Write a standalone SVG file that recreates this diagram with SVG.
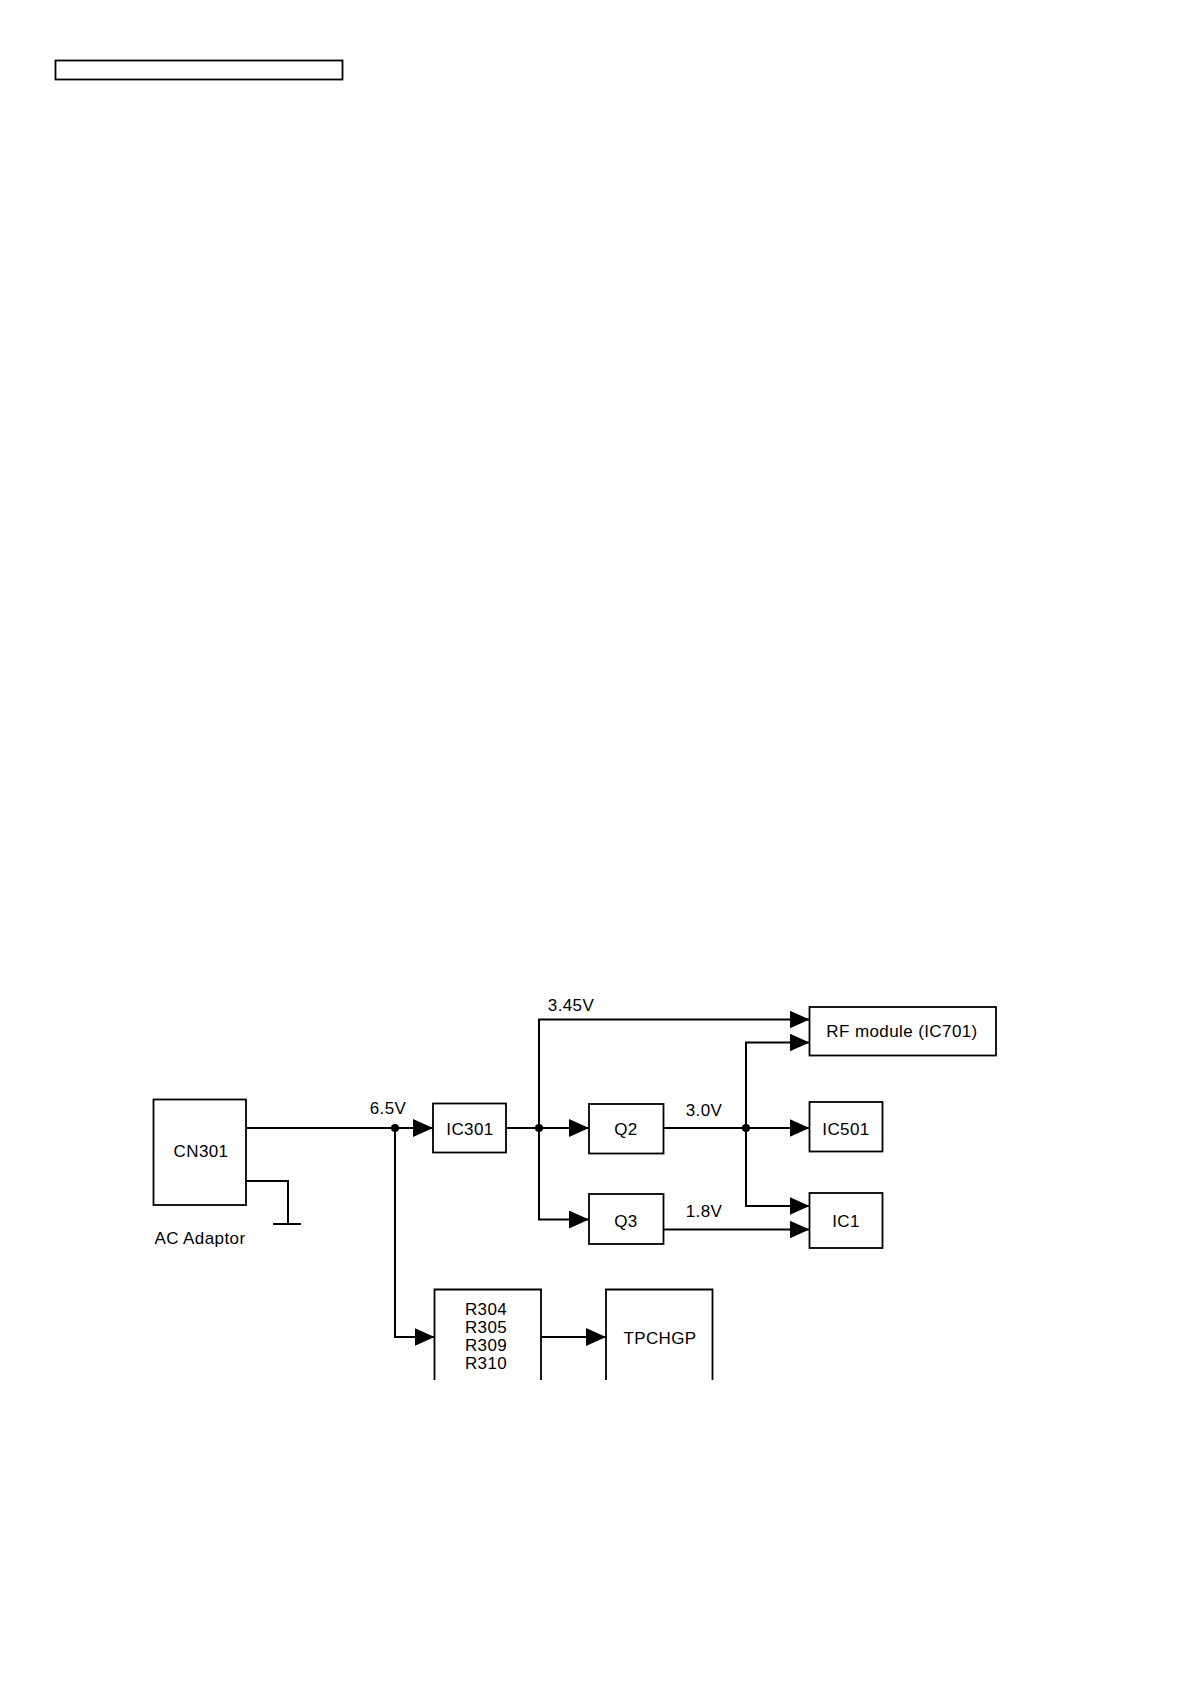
<svg xmlns="http://www.w3.org/2000/svg" width="1190" height="1684" viewBox="0 0 1190 1684">
<style>
.box{fill:none;stroke:#000;stroke-width:1.8}
.ln{fill:none;stroke:#000;stroke-width:2}
.t{font-family:"Liberation Sans",Arial,sans-serif;font-size:17px;letter-spacing:0.4px;fill:#000;text-anchor:middle}
</style>
<defs>
<marker id="ah" markerUnits="userSpaceOnUse" markerWidth="20" markerHeight="18" refX="20" refY="9" orient="auto">
<path d="M0,0 L20,9 L0,18 Z" fill="#000"/>
</marker>
</defs>
<rect width="1190" height="1684" fill="#fff"/>
<rect x="55.5" y="60.5" width="287" height="19" class="box" stroke-width="1.5"/>

<g id="CN301"><rect x="153.5" y="1099.5" width="92.5" height="105.5" class="box"/><text x="201" y="1157" class="t">CN301</text><text x="200" y="1244" class="t">AC Adaptor</text></g>
<g id="IC301"><rect x="433" y="1103.5" width="73" height="49" class="box"/><text x="470" y="1135" class="t">IC301</text></g>
<g id="Q2"><rect x="589" y="1104" width="74.5" height="49.5" class="box"/><text x="626" y="1135" class="t">Q2</text></g>
<g id="Q3"><rect x="589" y="1194" width="74.5" height="50" class="box"/><text x="626" y="1227" class="t">Q3</text></g>
<g id="RF"><rect x="809.5" y="1007" width="186.5" height="48.5" class="box"/><text x="902" y="1037" class="t">RF module (IC701)</text></g>
<g id="IC501"><rect x="809.5" y="1102" width="73" height="49.5" class="box"/><text x="846" y="1135" class="t">IC501</text></g>
<g id="IC1"><rect x="809.5" y="1193" width="73" height="55" class="box"/><text x="846" y="1227" class="t">IC1</text></g>
<g id="R"><path d="M434.5,1380 V1289.5 H541 V1380" class="box"/><text x="486" y="1315" class="t">R304</text><text x="486" y="1333" class="t">R305</text><text x="486" y="1351" class="t">R309</text><text x="486" y="1369" class="t">R310</text></g>
<g id="TPCHGP"><path d="M606,1380 V1289.5 H712.5 V1380" class="box"/><text x="660" y="1344" class="t">TPCHGP</text></g>

<g id="connectors">
<path d="M246,1128 H433" class="ln" marker-end="url(#ah)"/>
<path d="M246,1181 H288 V1224" class="ln"/>
<path d="M273,1224 H301" class="ln"/>
<path d="M506,1128 H589" class="ln" marker-end="url(#ah)"/>
<path d="M539,1128 V1019.5 H809.5" class="ln" marker-end="url(#ah)"/>
<path d="M539,1128 V1219.5 H589" class="ln" marker-end="url(#ah)"/>
<path d="M663.5,1128 H809.5" class="ln" marker-end="url(#ah)"/>
<path d="M746,1128 V1042.5 H809.5" class="ln" marker-end="url(#ah)"/>
<path d="M746,1128 V1206 H809.5" class="ln" marker-end="url(#ah)"/>
<path d="M663.5,1229.5 H809.5" class="ln" marker-end="url(#ah)"/>
<path d="M395,1128 V1337 H434.5" class="ln" marker-end="url(#ah)"/>
<path d="M541,1337 H606" class="ln" marker-end="url(#ah)"/>
<circle cx="395" cy="1128" r="4"/>
<circle cx="539" cy="1128" r="4"/>
<circle cx="746" cy="1128" r="4"/>
<text x="388" y="1114" class="t">6.5V</text>
<text x="571" y="1011" class="t">3.45V</text>
<text x="704" y="1116" class="t">3.0V</text>
<text x="704" y="1217" class="t">1.8V</text>
</g>
</svg>
